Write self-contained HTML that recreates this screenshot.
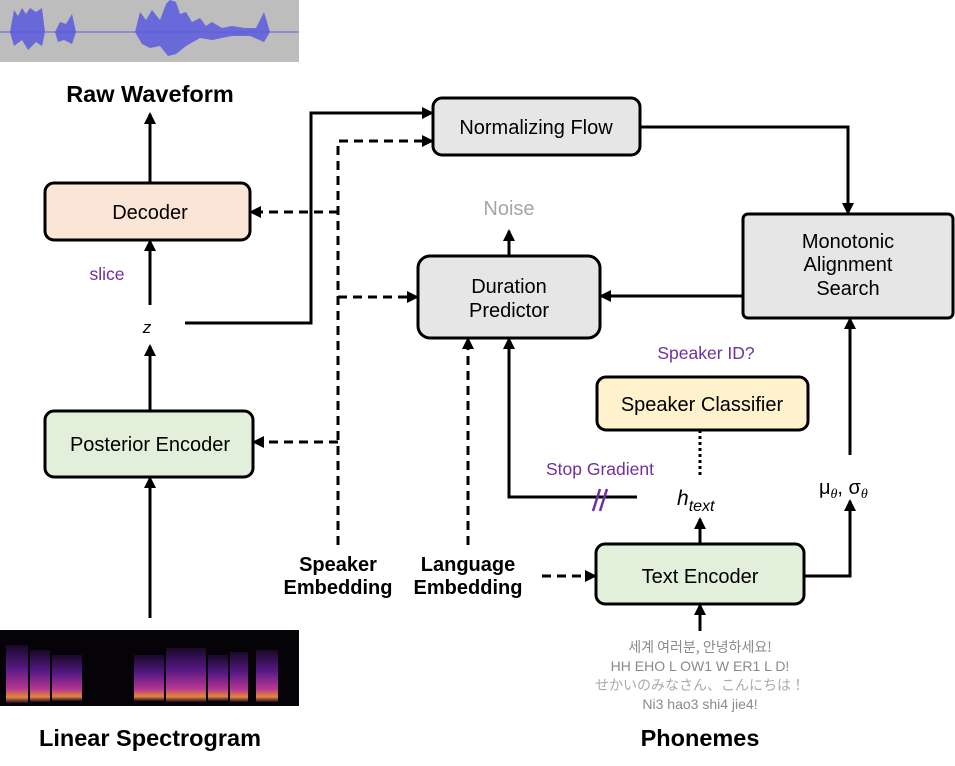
<!DOCTYPE html>
<html><head><meta charset="utf-8"><style>
html,body{margin:0;padding:0;background:#fff;}
svg{display:block;}
text{font-family:"Liberation Sans","Noto Sans CJK KR",sans-serif;}
</style></head><body>
<svg width="955" height="766" viewBox="0 0 955 766" xmlns="http://www.w3.org/2000/svg">
<defs>
<marker id="a" markerWidth="12" markerHeight="12" refX="10" refY="6" orient="auto" markerUnits="userSpaceOnUse"><path d="M0,0 L12,6 L0,12 z" fill="#000"/></marker>
<linearGradient id="sp" x1="0" y1="0" x2="0" y2="1">
<stop offset="0" stop-color="#1a0a2a"/><stop offset="0.4" stop-color="#5a1a8a"/><stop offset="0.75" stop-color="#c03a9a"/><stop offset="0.9" stop-color="#f0903a"/><stop offset="1" stop-color="#200a30"/></linearGradient>
</defs>
<rect x="0" y="0" width="299" height="62" fill="#bdbdbd"/>
<line x1="0" y1="32" x2="299" y2="32" stroke="#5a5ae0" stroke-width="1"/>
<g fill="#5a5adf" opacity="0.85">
<path d="M10,32 L14,10 L18,16 L22,8 L26,14 L30,8 L36,12 L42,8 L45,32 L42,46 L36,42 L28,50 L22,40 L14,46 Z"/>
<path d="M55,32 L60,22 L66,24 L72,14 L76,32 L72,44 L64,40 L58,42 Z"/>
<path d="M135,32 L140,12 L146,20 L152,10 L160,20 L166,4 L170,0 L176,2 L180,14 L186,12 L192,22 L200,18 L206,26 L212,22 L222,28 L232,26 L245,28 L256,28 L264,12 L270,32 L264,42 L250,36 L232,36 L212,40 L200,38 L186,46 L176,54 L168,56 L160,46 L150,48 L142,44 Z"/>
</g>
<rect x="0" y="630" width="299" height="76" fill="#050308"/>
<g fill="url(#sp)" opacity="0.95">
<rect x="6" y="645" width="22" height="58"/><rect x="30" y="650" width="20" height="52"/><rect x="52" y="655" width="30" height="46"/>
<rect x="134" y="655" width="30" height="46"/><rect x="166" y="648" width="40" height="54"/><rect x="208" y="655" width="20" height="46"/><rect x="230" y="652" width="18" height="50"/><rect x="256" y="650" width="22" height="52"/>
</g>
<g stroke="#000" stroke-width="3" fill="none">
<rect x="45" y="183" width="205" height="57" rx="9" fill="#fbe5d6"/>
<rect x="45" y="411" width="208" height="66" rx="9" fill="#e2efda"/>
<rect x="433" y="98" width="207" height="57" rx="9" fill="#e6e6e6"/>
<rect x="418" y="256" width="182" height="82" rx="12" fill="#e6e6e6"/>
<rect x="743" y="214" width="210" height="104" rx="5" fill="#e6e6e6"/>
<rect x="597" y="377" width="211" height="53" rx="9" fill="#fff2cc"/>
<rect x="596" y="544" width="208" height="60" rx="9" fill="#e2efda"/>
<line x1="150" y1="183" x2="150" y2="114" marker-end="url(#a)"/>
<line x1="150" y1="305" x2="150" y2="241" marker-end="url(#a)"/>
<line x1="150" y1="411" x2="150" y2="346" marker-end="url(#a)"/>
<line x1="150" y1="618" x2="150" y2="478" marker-end="url(#a)"/>
<polyline points="185,323 311,323 311,113 432,113" marker-end="url(#a)"/>
<polyline points="640,127 848,127 848,213" marker-end="url(#a)"/>
<line x1="743" y1="296" x2="601" y2="296" marker-end="url(#a)"/>
<line x1="509" y1="256" x2="509" y2="231" marker-end="url(#a)"/>
<line x1="850" y1="455" x2="850" y2="319" marker-end="url(#a)"/>
<polyline points="804,576 850,576 850,501" marker-end="url(#a)"/>
<line x1="700" y1="544" x2="700" y2="519" marker-end="url(#a)"/>
<line x1="700" y1="631" x2="700" y2="605" marker-end="url(#a)"/>
<polyline points="637,497 509,497 509,339" marker-end="url(#a)"/>
<g stroke-dasharray="9,6">
<polyline points="338,545 338,141 432,141" marker-end="url(#a)"/>
<line x1="338" y1="212" x2="251" y2="212" marker-end="url(#a)"/>
<line x1="338" y1="297" x2="417" y2="297" marker-end="url(#a)"/>
<line x1="338" y1="442" x2="254" y2="442" marker-end="url(#a)"/>
<line x1="468" y1="545" x2="468" y2="339" marker-end="url(#a)"/>
<line x1="542" y1="576" x2="595" y2="576" marker-end="url(#a)"/>
</g>
<line x1="700" y1="475" x2="700" y2="431" stroke-dasharray="3,3"/>
</g>
<g stroke="#7030a0" stroke-width="2.5"><line x1="593" y1="511" x2="600" y2="489"/><line x1="600" y1="511" x2="607" y2="489"/></g>
<g font-size="20" text-anchor="middle" fill="#000">
<text x="150" y="219">Decoder</text>
<text x="150" y="451">Posterior Encoder</text>
<text x="536" y="134">Normalizing Flow</text>
<text x="509" y="293">Duration</text>
<text x="509" y="317">Predictor</text>
<text x="848" y="248">Monotonic</text>
<text x="848" y="271">Alignment</text>
<text x="848" y="295">Search</text>
<text x="702" y="411">Speaker Classifier</text>
<text x="700" y="583">Text Encoder</text>
<text x="509" y="215" fill="#a6a6a6">Noise</text>
</g>
<g font-size="23.5" font-weight="bold" text-anchor="middle">
<text x="150" y="102">Raw Waveform</text>
<text x="150" y="746">Linear Spectrogram</text>
<text x="700" y="746">Phonemes</text>
</g>
<g font-size="20" font-weight="bold" text-anchor="middle">
<text x="338" y="571">Speaker</text>
<text x="338" y="594">Embedding</text>
<text x="468" y="571">Language</text>
<text x="468" y="594">Embedding</text>
</g>
<g font-size="17.5" fill="#7030a0" text-anchor="middle">
<text x="107" y="280">slice</text>
<text x="706" y="359">Speaker ID?</text>
<text x="600" y="475">Stop Gradient</text>
</g>
<text x="147" y="333" font-family="Liberation Serif,serif" font-style="italic" font-size="17" text-anchor="middle">z</text>
<text x="677" y="505" font-family="Liberation Serif,serif" font-style="italic" font-size="21">h<tspan font-size="16" dy="6">text</tspan></text>
<text x="819" y="494" font-size="20">μ<tspan font-size="14" font-style="italic" font-family="Liberation Serif,serif" dy="4">θ</tspan><tspan dy="-4">, σ</tspan><tspan font-size="14" font-style="italic" font-family="Liberation Serif,serif" dy="4">θ</tspan></text>
<g font-size="14" text-anchor="middle" fill="#8a8a8a">
<text x="700" y="652" style="font-family:'Noto Sans CJK KR',sans-serif">세계 여러분, 안녕하세요!</text>
<text x="700" y="671">HH EHO L OW1 W ER1 L D!</text>
<text x="700" y="690" fill="#aaaaaa" style="font-family:'Noto Sans CJK JP',sans-serif">せかいのみなさん、こんにちは！</text>
<text x="700" y="709">Ni3 hao3 shi4 jie4!</text>
</g>
</svg>
</body></html>
